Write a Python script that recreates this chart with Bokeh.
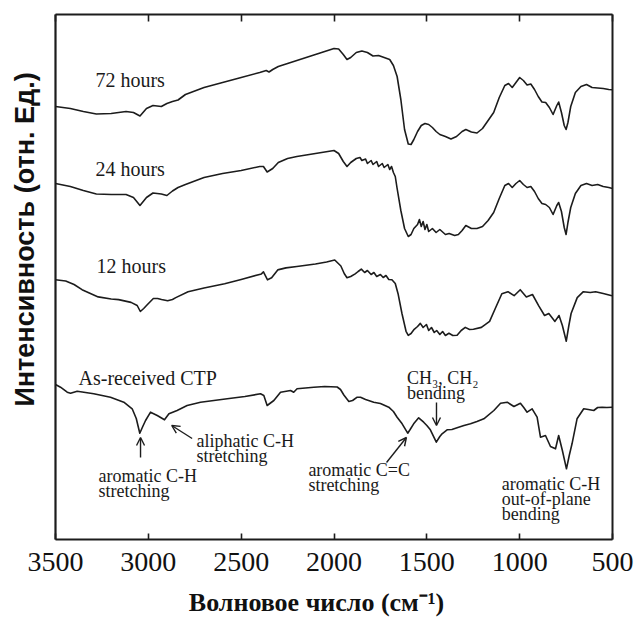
import math
from bokeh.plotting import figure
from bokeh.models import (Range1d, FixedTicker, LinearAxis, Label, Arrow, OpenHead,
                          ColumnDataSource)
from bokeh.embed import file_html
from bokeh.resources import INLINE

# ---------------- data (wavenumber, cm^-1  /  intensity, arb. units) ----------------
wn_72 = [3500, 3420, 3350, 3280, 3200, 3120, 3080, 3045, 3010, 2975, 2930, 2900, 2870, 2840, 2800,
         2700, 2600, 2500, 2400, 2365, 2350, 2330, 2300, 2250, 2200, 2150, 2100, 2050, 2000, 1975,
         1950, 1930, 1910, 1880, 1850, 1820, 1790, 1760, 1730, 1700, 1680, 1660, 1640, 1620, 1600,
         1585, 1570, 1550, 1530, 1510, 1490, 1470, 1450, 1430, 1400, 1370, 1340, 1310, 1290, 1260,
         1230, 1200, 1170, 1140, 1110, 1080, 1060, 1040, 1020, 1000, 980, 960, 940, 920, 900,
         880, 860, 840, 820, 800, 790, 775, 760, 750, 740, 725, 700, 670, 640, 610,
         580, 550, 520, 500]
int_72 = [433, 431, 428, 425.5, 426, 428, 427, 423.5, 431, 434, 433, 436, 438, 439.5, 445,
          452, 457, 462, 467, 469, 467.5, 470, 473, 476, 479, 482, 485, 488, 491, 490.5,
          485, 480, 482, 487, 488.5, 487, 483.5, 484, 482, 480, 474, 463, 440, 410, 395.5,
          395, 400, 408, 414, 416, 415, 412, 408, 405, 403, 400.5, 403, 408, 410, 407.5,
          406.5, 411, 419, 427, 442, 454, 456, 452, 457, 462, 459, 454.5, 455.5, 450, 443,
          437.5, 437, 432, 425, 434, 437.5, 427, 414, 410, 417, 433, 447, 453, 455, 452,
          451.5, 451, 450, 449.7]

wn_24 = [3500, 3420, 3350, 3280, 3200, 3120, 3080, 3045, 3010, 2975, 2930, 2900, 2870, 2840, 2800,
         2700, 2600, 2500, 2400, 2380, 2360, 2330, 2300, 2250, 2200, 2150, 2100, 2050, 2000, 1975,
         1950, 1930, 1910, 1880, 1860, 1850, 1830, 1820, 1800, 1790, 1770, 1760, 1740, 1730, 1710,
         1700, 1690, 1680, 1670, 1660, 1640, 1620, 1600, 1585, 1570, 1550, 1540, 1530, 1520, 1510,
         1500, 1490, 1470, 1450, 1430, 1400, 1380, 1350, 1330, 1310, 1290, 1260, 1230, 1200, 1170,
         1140, 1110, 1080, 1060, 1040, 1020, 1000, 980, 960, 940, 920, 900, 880, 860, 840,
         820, 800, 790, 775, 760, 750, 740, 725, 700, 670, 640, 610, 580, 550, 520, 500]
int_24 = [356, 353, 349, 345.5, 345, 345, 342, 334, 342, 346.5, 345.5, 344, 348.5, 352, 355,
          362, 366, 369, 373, 373, 367.5, 371, 377, 381, 383, 384.5, 386, 387.5, 389, 386,
          378, 373, 377, 381, 382, 379, 380.5, 376, 379, 375, 378, 373, 376, 372, 375,
          370, 373, 367, 363, 351, 329, 311, 303, 305, 311, 315, 320, 313, 318, 310,
          315, 308, 311, 307, 310, 305, 306, 304, 305, 309, 314, 311, 311, 313, 319,
          327, 341, 354, 356, 352, 356, 359, 355, 352, 353, 348, 341, 336, 335, 332,
          325, 334, 337, 328, 312, 305, 317, 332, 346, 354, 356, 354, 355, 353, 352, 351]

wn_12 = [3500, 3445, 3400, 3357, 3300, 3270, 3200, 3160, 3093, 3060, 3043, 3025, 3006, 2973, 2950,
         2929, 2896, 2870, 2852, 2786, 2700, 2589, 2500, 2391, 2380, 2358, 2336, 2303, 2259, 2200,
         2100, 2040, 1996, 1963, 1945, 1930, 1910, 1886, 1870, 1853, 1835, 1820, 1800, 1785, 1770,
         1750, 1735, 1720, 1705, 1688, 1670, 1655, 1634, 1612, 1600, 1585, 1568, 1550, 1535, 1520,
         1502, 1490, 1475, 1460, 1447, 1430, 1415, 1400, 1381, 1360, 1337, 1315, 1293, 1270, 1249,
         1206, 1162, 1129, 1096, 1063, 1030, 997, 964, 931, 898, 866, 843, 810, 788, 770,
         749, 735, 723, 690, 657, 620, 591, 550, 503]
int_12 = [259.7, 258.5, 255, 249.8, 245, 242.6, 240.5, 239.9, 237.1, 234, 228, 231, 234.7, 241, 241,
          240, 238.7, 240, 241.9, 247.8, 251.5, 255.7, 260, 265.6, 267.6, 259.7, 261.7, 269.6, 271.6, 273,
          275.5, 277.5, 279.5, 273.5, 266, 261.7, 263, 265.6, 268, 270.4, 267, 269, 265, 267, 263,
          265, 262, 264, 260, 259.7, 256, 245.8, 226, 208.2, 204.2, 206, 210.2, 213, 216.1, 212,
          215, 209, 212, 207, 209, 205, 208, 204, 206.2, 204, 204.2, 209, 212.1, 210, 210.2,
          212.1, 218.1, 232, 245.8, 247.8, 243.8, 249.8, 242.6, 245, 233.9, 224, 226, 218.1, 224, 214,
          198.3, 214, 226, 241.9, 247.8, 247, 247.8, 246, 243.8]

wn_ctp = [3500, 3473, 3437, 3419, 3383, 3294, 3204, 3132, 3087, 3065, 3046, 3030, 3015, 2988, 2952,
          2913, 2889, 2845, 2791, 2719, 2575, 2480, 2396, 2378, 2360, 2324, 2288, 2234, 2217, 2199,
          2109, 2050, 1983, 1965, 1947, 1920, 1900, 1875, 1857, 1830, 1786, 1750, 1705, 1680, 1660,
          1633, 1603, 1590, 1571, 1544, 1517, 1500, 1481, 1449, 1430, 1418, 1391, 1365, 1337, 1300,
          1265, 1230, 1193, 1139, 1103, 1067, 1031, 996, 978, 960, 933, 906, 888, 861, 834,
          807, 790, 770, 748, 733, 718, 691, 655, 630, 601, 580, 556, 530, 502]
int_ctp = [155, 152.3, 147.3, 146.3, 148.3, 145.7, 142.3, 137.3, 130.7, 121, 106.3, 113, 119, 127.3, 124,
           119.7, 125.7, 129, 134, 137.3, 140.7, 143, 145.7, 144, 134, 139, 147.3, 149, 147.3, 150.7,
           152.3, 153, 152.5, 150, 144.5, 138, 139, 142.3, 142.3, 140, 137.3, 136, 132.3, 128, 122.3,
           115.7, 106.3, 110, 115.7, 121.7, 117.3, 114, 109.7, 97.3, 103, 105.7, 109.7, 110, 111.7, 114,
           115.7, 118, 120.7, 129, 136.3, 137.3, 133, 136.3, 132, 127.3, 130.7, 122.3, 102.3, 104, 93,
           90.7, 104, 89, 70.7, 84, 95.7, 120.7, 130.7, 130, 129, 132, 132.3, 132, 132.3]

x_ticks = [3500, 3000, 2500, 2000, 1500, 1000, 500]
x_lo, x_hi = 500, 3500          # plotted wavenumber span
y_lo, y_hi = 0, 525             # plotted intensity span (arb. units)
series_names = ["72 hours", "24 hours", "12 hours", "As-received CTP"]
x_title = "Волновое число (см⁻¹)"
y_title = "Интенсивность (отн. Ед.)"

# ---------------- figure ----------------
# The canvas is one large frame; the boxed plot area is drawn by axes fixed at the data bounds,
# so axis titles can sit freely in the surrounding margin.
p = figure(width=638, height=620, output_backend="svg", toolbar_location=None,
           x_range=Range1d(3796.2, 360.0), y_range=Range1d(-81, 539),
           x_axis_location=None, y_axis_location=None,
           min_border=0, min_border_left=0, min_border_right=0,
           min_border_top=0, min_border_bottom=0)
p.background_fill_color = "white"
p.border_fill_color = "white"
p.outline_line_color = None
p.xgrid.visible = False
p.ygrid.visible = False

ink = "#1c1c1c"

# bottom axis with tick labels
xa = LinearAxis(fixed_location=y_lo, bounds=(x_lo, x_hi), ticker=FixedTicker(ticks=x_ticks),
                major_tick_in=6, major_tick_out=0, minor_tick_line_color=None,
                major_tick_line_width=1.6, major_tick_line_color=ink,
                axis_line_color=ink, axis_line_width=1.8,
                major_label_text_font="Liberation Serif", major_label_text_font_size="28px",
                major_label_text_color="#111111", major_label_standoff=13)
p.add_layout(xa, "below")

# top axis: ticks only
ta = LinearAxis(fixed_location=y_hi, bounds=(x_lo, x_hi), ticker=FixedTicker(ticks=x_ticks),
                major_tick_in=7, major_tick_out=0, minor_tick_line_color=None,
                major_tick_line_width=1.6, major_tick_line_color=ink,
                axis_line_color=ink, axis_line_width=1.8, major_label_standoff=0,
                major_label_text_font_size="1px",
                major_label_overrides={t: "" for t in x_ticks})
p.add_layout(ta, "above")

# left / right frame edges
for side, loc, lw in [("left", x_hi, 2.2), ("right", x_lo, 2.0)]:
    ax = LinearAxis(fixed_location=loc, bounds=(y_lo, y_hi), ticker=FixedTicker(ticks=[]),
                    major_tick_line_color=None, minor_tick_line_color=None,
                    axis_line_color=ink, axis_line_width=lw, major_label_standoff=0)
    p.add_layout(ax, side)

# spectra
for wn, inten in [(wn_72, int_72), (wn_24, int_24), (wn_12, int_12), (wn_ctp, int_ctp)]:
    src = ColumnDataSource(dict(wn=wn, inten=inten))
    p.line("wn", "inten", source=src, line_color=ink, line_width=1.6, line_join="round")

# series labels
series_label_pos = [(3285, 460), (3285, 371), (3279, 274), (3376, 162)]
for name, (lx, ly) in zip(series_names, series_label_pos):
    p.add_layout(Label(x=lx, y=ly, text=name, text_font="Liberation Serif", text_font_size="20px",
                       text_color="#1a1a1a", text_align="left", text_baseline="middle"))

# peak annotations
annot_lines = [
    ("aromatic C-H", 3268, 64), ("stretching", 3268, 49),
    ("aliphatic C-H", 2740, 99), ("stretching", 2740, 84),
    ("aromatic C=C", 2138, 69.5), ("stretching", 2138, 55),
    ("CH₃, CH₂", 1607, 162), ("bending", 1607, 147),
    ("aromatic C-H", 1096, 55.6), ("out-of-plane", 1096, 40.6), ("bending", 1096, 26),
]
for txt, ax_, ay_ in annot_lines:
    p.add_layout(Label(x=ax_, y=ay_, text=txt, text_font="Liberation Serif", text_font_size="18px",
                       text_color="#1a1a1a", text_align="left", text_baseline="middle"))

arrows = [((3042, 82), (3042, 102)), ((2764, 101), (2874, 114)),
          ((1717, 77), (1610, 102)), ((1448, 137), (1448, 114))]
for (x0, y0), (x1, y1) in arrows:
    p.add_layout(Arrow(x_start=x0, y_start=y0, x_end=x1, y_end=y1, line_color=ink, line_width=1.4,
                       end=OpenHead(size=8, line_color=ink, line_width=1.4)))

# axis titles
p.add_layout(Label(x=2094, y=-63, text=x_title, text_font="Liberation Serif", text_font_style="bold",
                   text_font_size="26px", text_color="#111111", text_align="center",
                   text_baseline="middle"))
p.add_layout(Label(x=3662, y=300, text=y_title, text_font="Liberation Sans", text_font_style="bold",
                   text_font_size="27px", text_color="#111111", text_align="center",
                   text_baseline="middle", angle=math.pi / 2))

open("out.html", "w").write(file_html(p, INLINE))
